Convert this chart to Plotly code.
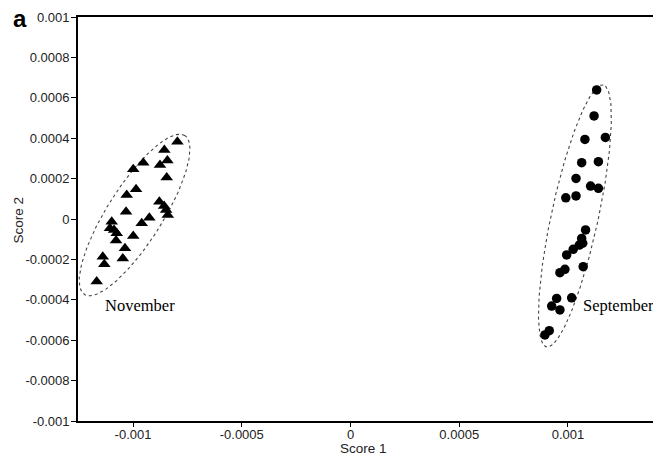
import numpy as np
import plotly.graph_objects as go

# November (triangles) scores, units of 1e-3
nov_x = [-0.796, -0.856, -0.842, -0.876, -0.953, -0.999, -0.845, -0.986, -1.029, -0.879,
         -0.857, -0.848, -0.840, -1.032, -0.925, -0.960, -1.098, -1.106, -1.075, -1.078,
         -0.999, -1.037, -1.139, -1.132, -1.047, -1.167, -1.087]
nov_y = [0.383, 0.342, 0.289, 0.267, 0.279, 0.246, 0.206, 0.147, 0.119, 0.086,
         0.064, 0.045, 0.020, 0.036, 0.006, -0.021, -0.013, -0.046, -0.071, -0.107,
         -0.084, -0.145, -0.187, -0.224, -0.195, -0.310, -0.054]

# September (circles) scores, units of 1e-3
sep_x = [1.132, 1.120, 1.078, 1.172, 1.063, 1.140, 1.037, 1.104, 1.140, 0.990,
         1.037, 1.081, 1.063, 1.052, 1.024, 0.994, 0.986, 0.963, 1.070, 0.948,
         0.925, 0.963, 1.017, 0.914, 0.894, 1.068]
sep_y = [0.639, 0.510, 0.394, 0.404, 0.279, 0.284, 0.201, 0.163, 0.152, 0.105,
         0.114, -0.054, -0.096, -0.129, -0.150, -0.178, -0.249, -0.266, -0.236, -0.393,
         -0.431, -0.450, -0.390, -0.553, -0.574, -0.120]

x_ticks = [-0.001, -0.0005, 0, 0.0005, 0.001]
x_ticktext = ["-0.001", "-0.0005", "0", "0.0005", "0.001"]
y_ticks = [0.001, 0.0008, 0.0006, 0.0004, 0.0002, 0, -0.0002, -0.0004, -0.0006, -0.0008, -0.001]
y_ticktext = ["0.001", "0.0008", "0.0006", "0.0004", "0.0002", "0", "-0.0002", "-0.0004",
              "-0.0006", "-0.0008", "-0.001"]

# group ellipses: center (data, 1e-3), semi-axes (1e-3, x-equivalent), angle (deg)
ell_nov = dict(cx=-0.993, cy=0.020, a=0.432, b=0.127, ang=57.7)
ell_sep = dict(cx=1.032, cy=0.015, a=0.616, b=0.108, ang=77.8)

S = 1e-3
YX = 217.5 / 202.0  # y-unit to x-unit pixel ratio


def ellipse(e):
    t = np.linspace(0, 2 * np.pi, 240)
    th = np.radians(e["ang"])
    u = e["a"] * np.cos(t)
    v = e["b"] * np.sin(t)
    px = u * np.cos(th) - v * np.sin(th)
    py = u * np.sin(th) + v * np.cos(th)
    return (e["cx"] + px) * S, (e["cy"] + py * YX) * S


fig = go.Figure()
for e in (ell_nov, ell_sep):
    ex, ey = ellipse(e)
    fig.add_trace(go.Scatter(x=ex, y=ey, mode="lines",
                             line=dict(color="#444", width=1.1, dash="dot"),
                             hoverinfo="skip", showlegend=False))

fig.add_trace(go.Scatter(x=[v * S for v in nov_x], y=[v * S for v in nov_y], mode="markers",
                         marker=dict(symbol="triangle-up", size=11, color="black"),
                         showlegend=False))
fig.add_trace(go.Scatter(x=[v * S for v in sep_x], y=[v * S for v in sep_y], mode="markers",
                         marker=dict(symbol="circle", size=9.5, color="black"),
                         showlegend=False))

axfont = dict(family="Liberation Sans, Arial", size=13, color="#222")
titlefont = dict(family="Liberation Sans, Arial", size=13.5, color="#222")
serif = dict(family="Liberation Serif, Times New Roman", size=16.5, color="black")
fig.update_layout(
    width=653, height=456,
    margin=dict(l=78, r=0, t=17, b=35),
    paper_bgcolor="white", plot_bgcolor="white",
    showlegend=False,
    xaxis=dict(range=[-1.253e-3, 1.391e-3], tickvals=x_ticks, ticktext=x_ticktext,
               ticks="outside", ticklen=4, tickwidth=1, tickcolor="black",
               ticklabelstandoff=-3,
               showline=True, linecolor="black", linewidth=1.5, mirror=True,
               showgrid=False, zeroline=False, tickfont=axfont),
    yaxis=dict(range=[-0.001, 0.001], tickvals=y_ticks, ticktext=y_ticktext,
               ticks="outside", ticklen=5, tickwidth=1, tickcolor="black",
               ticklabelstandoff=-1,
               showline=True, linecolor="black", linewidth=1.8, mirror=False,
               showgrid=False, zeroline=False, tickfont=axfont),
    annotations=[
        dict(text="Score 1", xref="paper", yref="paper", x=0.5, y=0, xshift=-2.5,
             yshift=-27, showarrow=False, font=titlefont, yanchor="middle"),
        dict(text="Score 2", xref="paper", yref="paper", x=0, y=0.5, xshift=-60.5, yshift=-1,
             textangle=-90, showarrow=False, font=titlefont, xanchor="center"),
        dict(text="<b>a</b>", xref="paper", yref="paper", x=0, y=1, xshift=-58.5, yshift=-1,
             showarrow=False, font=dict(family="Liberation Sans, Arial", size=24, color="black"),
             xanchor="center", yanchor="middle"),
        dict(text="November", x=-0.966e-3, y=-0.429e-3, showarrow=False, font=serif),
        dict(text="September", x=1.058e-3, y=-0.426e-3, xanchor="left", showarrow=False,
             font=serif),
    ],
)

fig.write_html("out.html")
